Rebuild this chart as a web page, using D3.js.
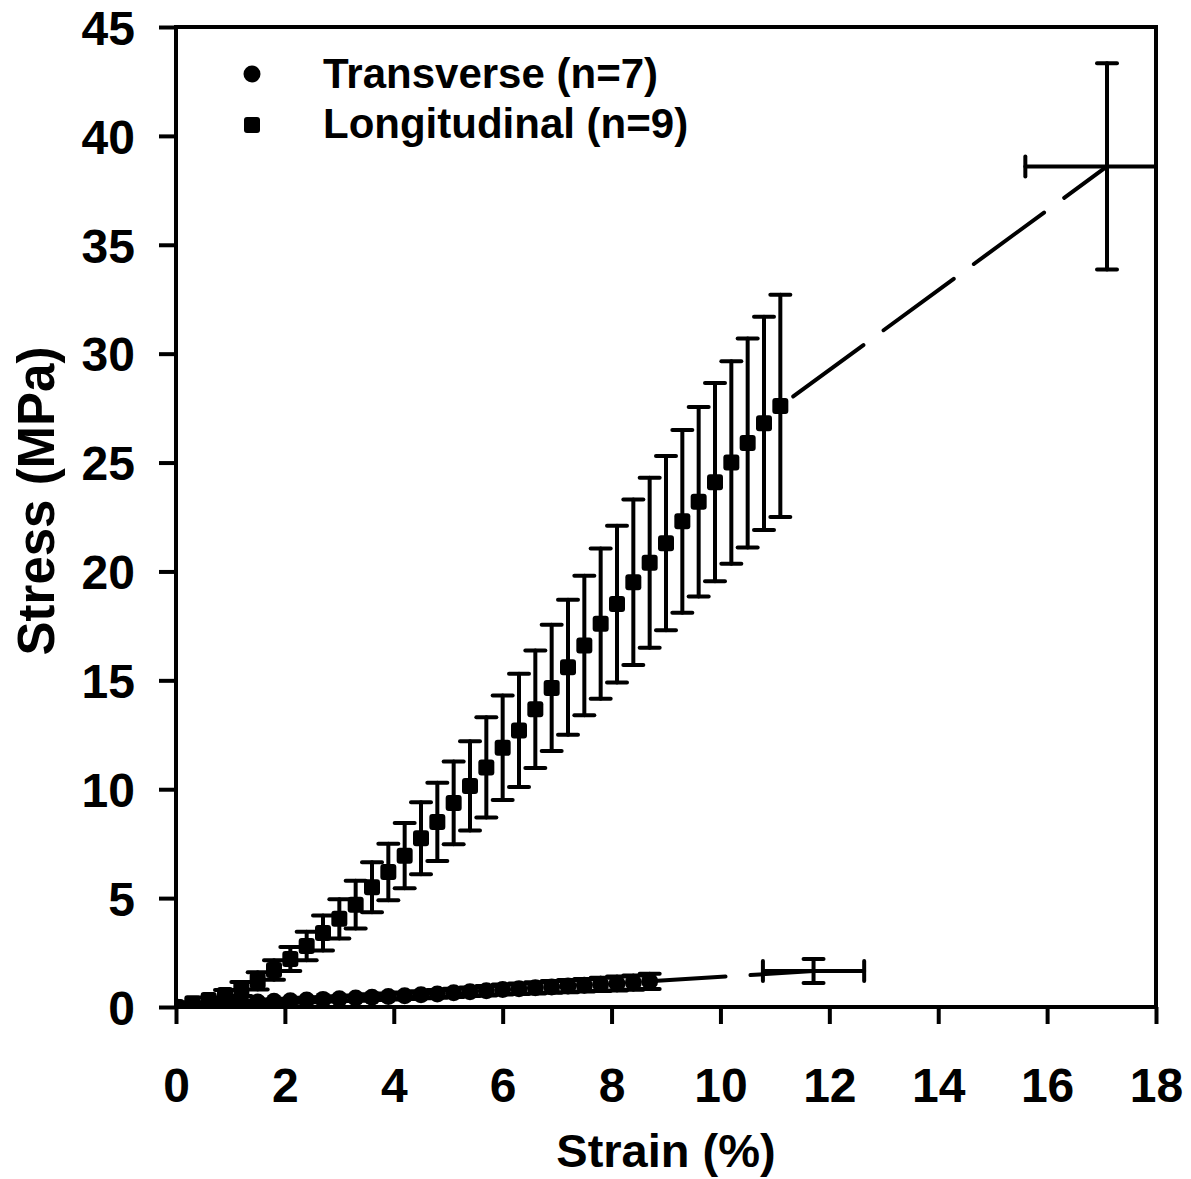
<!DOCTYPE html>
<html>
<head>
<meta charset="utf-8">
<script src="https://cdn.jsdelivr.net/npm/d3@7"></script>
<style>
  body { margin: 0; background: #fff; }
  text { font-family: "Liberation Sans", Arial, sans-serif; font-weight: bold; fill: #000; }
</style>
</head>
<body>
<script>
// transverse series (circles), strain step 0.3 %
const transStrain = [0, 0.3, 0.6, 0.9, 1.2, 1.5, 1.8, 2.1, 2.4, 2.7, 3.0, 3.3, 3.6, 3.9, 4.2,
  4.5, 4.8, 5.1, 5.4, 5.7, 6.0, 6.3, 6.6, 6.9, 7.2, 7.5, 7.8, 8.1, 8.4, 8.7];
const transStress = [0, 0.1, 0.14, 0.17, 0.2, 0.23, 0.26, 0.29, 0.32, 0.35, 0.38, 0.41, 0.45, 0.48, 0.52,
  0.56, 0.6, 0.65, 0.7, 0.75, 0.8, 0.84, 0.88, 0.92, 0.96, 1.0, 1.04, 1.08, 1.12, 1.18];
const transErr = [0, 0.03, 0.04, 0.05, 0.06, 0.07, 0.08, 0.09, 0.1, 0.1, 0.11, 0.12, 0.13, 0.14, 0.15,
  0.16, 0.18, 0.19, 0.2, 0.22, 0.23, 0.24, 0.26, 0.27, 0.28, 0.29, 0.3, 0.32, 0.33, 0.35];
// transverse failure point (mean +/- sd in both directions)
const transEnd = { x: 11.71, y: 1.65, xErr: 0.93, yErr: 0.55 };

// longitudinal series (squares)
const longStrain = [0, 0.3, 0.6, 0.9, 1.2, 1.5, 1.8, 2.1, 2.4, 2.7, 3.0, 3.3, 3.6, 3.9, 4.2, 4.5, 4.8, 5.1, 5.4,
  5.7, 6.0, 6.3, 6.6, 6.9, 7.2, 7.5, 7.8, 8.1, 8.4, 8.7, 9.0, 9.3, 9.6, 9.9, 10.2, 10.5, 10.8, 11.1];
const longStress = [0, 0.17, 0.32, 0.55, 0.83, 1.2, 1.7, 2.2, 2.8, 3.4, 4.05, 4.7, 5.5, 6.2, 6.95, 7.75, 8.5, 9.37, 10.15,
  11.0, 11.9, 12.7, 13.67, 14.65, 15.6, 16.6, 17.6, 18.5, 19.5, 20.4, 21.3, 22.3, 23.2, 24.1, 25.0, 25.9, 26.8, 27.6];
const longErr = [0, 0.05, 0.12, 0.23, 0.32, 0.4, 0.45, 0.55, 0.65, 0.8, 0.9, 1.1, 1.15, 1.3, 1.5, 1.65, 1.8, 1.9, 2.05,
  2.3, 2.4, 2.6, 2.7, 2.9, 3.1, 3.2, 3.45, 3.6, 3.8, 3.9, 4.0, 4.2, 4.35, 4.55, 4.65, 4.8, 4.9, 5.1];
const longEnd = { x: 17.1, y: 38.6, xErr: 1.5, yErr: 4.73 };

const xTicks = [0, 2, 4, 6, 8, 10, 12, 14, 16, 18];
const yTicks = [0, 5, 10, 15, 20, 25, 30, 35, 40, 45];
const legendLabels = ["Transverse (n=7)", "Longitudinal (n=9)"];

const width = 1191, height = 1179;
const margin = {top: 27, right: 35, bottom: 172, left: 176};

const svg = d3.select("body").append("svg")
    .attr("width", width)
    .attr("height", height);

const x = d3.scaleLinear().domain([0, 18]).range([margin.left, width - margin.right]);
const y = d3.scaleLinear().domain([0, 45]).range([height - margin.bottom, margin.top]);

svg.append("clipPath").attr("id", "plot-clip")
  .append("rect")
    .attr("x", x(0)).attr("y", y(45))
    .attr("width", x(18) - x(0)).attr("height", y(0) - y(45));

const plot = svg.append("g").attr("clip-path", "url(#plot-clip)");

const lw = 4, capW = 10, sq = 16, rad = 8.5;

function errorBars(g, xs, ys, errs) {
  const pts = xs.map((d, i) => ({x: d, y: ys[i], e: errs[i]})).filter(d => d.e > 0);
  g.selectAll(null).data(pts).enter().append("line")
      .attr("x1", d => x(d.x)).attr("x2", d => x(d.x))
      .attr("y1", d => y(d.y + d.e)).attr("y2", d => y(d.y - d.e));
  [1, -1].forEach(s => {
    g.selectAll(null).data(pts).enter().append("line")
        .attr("x1", d => x(d.x) - capW).attr("x2", d => x(d.x) + capW)
        .attr("y1", d => y(d.y + s * d.e)).attr("y2", d => y(d.y + s * d.e));
  });
}

function endPoint(g, p) {
  g.append("line")
      .attr("x1", x(p.x)).attr("x2", x(p.x))
      .attr("y1", y(p.y + p.yErr)).attr("y2", y(p.y - p.yErr));
  g.append("line")
      .attr("x1", x(p.x - p.xErr)).attr("x2", x(p.x + p.xErr))
      .attr("y1", y(p.y)).attr("y2", y(p.y));
  [p.y + p.yErr, p.y - p.yErr].forEach(v => {
    g.append("line")
        .attr("x1", x(p.x) - capW).attr("x2", x(p.x) + capW)
        .attr("y1", y(v)).attr("y2", y(v));
  });
  [p.x - p.xErr, p.x + p.xErr].forEach(v => {
    g.append("line")
        .attr("x1", x(v)).attr("x2", x(v))
        .attr("y1", y(p.y) - capW).attr("y2", y(p.y) + capW);
  });
}

const line = d3.line().x(d => x(d[0])).y(d => y(d[1]));

// dashed extensions to the failure points
plot.append("path")
    .datum([[transStrain[transStrain.length - 1], transStress[transStress.length - 1]], [transEnd.x, transEnd.y]])
    .attr("fill", "none").attr("stroke", "#000").attr("stroke-width", lw)
    .attr("stroke-linecap", "round")
    .attr("stroke-dasharray", "87,25").attr("stroke-dashoffset", 11)
    .attr("d", line);
plot.append("path")
    .datum([[longStrain[longStrain.length - 1], longStress[longStress.length - 1]], [longEnd.x, longEnd.y]])
    .attr("fill", "none").attr("stroke", "#000").attr("stroke-width", lw)
    .attr("stroke-linecap", "round")
    .attr("stroke-dasharray", "87,25").attr("stroke-dashoffset", 96)
    .attr("d", line);

const bars = plot.append("g")
    .attr("stroke", "#000")
    .attr("stroke-width", lw)
    .attr("stroke-linecap", "round");

errorBars(bars, transStrain, transStress, transErr);
errorBars(bars, longStrain, longStress, longErr);
endPoint(bars, transEnd);
endPoint(bars, longEnd);

// markers
plot.append("g").selectAll("circle")
    .data(transStrain)
    .enter().append("circle")
    .attr("cx", d => x(d))
    .attr("cy", (d, i) => y(transStress[i]))
    .attr("r", rad)
    .attr("fill", "#000");

plot.append("g").selectAll("rect")
    .data(longStrain)
    .enter().append("rect")
    .attr("x", d => x(d) - sq / 2)
    .attr("y", (d, i) => y(longStress[i]) - sq / 2)
    .attr("width", sq).attr("height", sq)
    .attr("rx", 3)
    .attr("fill", "#000");

// frame
svg.append("rect")
    .attr("x", x(0)).attr("y", y(45))
    .attr("width", x(18) - x(0)).attr("height", y(0) - y(45))
    .attr("fill", "none").attr("stroke", "#000").attr("stroke-width", lw);

// axes
const xAxis = svg.append("g")
    .attr("transform", `translate(0,${y(0)})`)
    .call(d3.axisBottom(x).tickValues(xTicks).tickFormat(d3.format("d")).tickSize(17).tickPadding(44));
const yAxis = svg.append("g")
    .attr("transform", `translate(${x(0)},0)`)
    .call(d3.axisLeft(y).tickValues(yTicks).tickFormat(d3.format("d")).tickSize(17).tickPadding(24));

[xAxis, yAxis].forEach(a => {
  a.select(".domain").remove();
  a.selectAll(".tick line").attr("stroke", "#000").attr("stroke-width", lw);
  a.selectAll(".tick text")
      .style("font-family", "'Liberation Sans', Arial, sans-serif")
      .style("font-weight", "bold")
      .style("font-size", "48px")
      .attr("fill", "#000");
});
xAxis.selectAll(".tick text").attr("dy", "0.71em");
yAxis.selectAll(".tick text").attr("dy", "0.36em");

svg.append("text")
    .attr("x", (x(0) + x(18)) / 2)
    .attr("y", 1167)
    .attr("text-anchor", "middle")
    .style("font-size", "47px")
    .text("Strain (%)");

svg.append("text")
    .attr("transform", `translate(54,${(y(0) + y(45)) / 2 - 16}) rotate(-90)`)
    .attr("text-anchor", "middle")
    .style("font-size", "51px")
    .text("Stress (MPa)");

// legend
const legend = svg.append("g");
legend.append("circle").attr("cx", 252).attr("cy", 74).attr("r", rad).attr("fill", "#000");
legend.append("rect").attr("x", 252 - sq / 2).attr("y", 125 - sq / 2).attr("width", sq).attr("height", sq)
    .attr("rx", 3).attr("fill", "#000");
legend.selectAll("text.lab")
    .data(legendLabels)
    .enter().append("text")
    .attr("class", "lab")
    .attr("x", 323)
    .attr("y", (d, i) => 88 + i * 50)
    .style("font-size", "42px")
    .text(d => d);
</script>
</body>
</html>
